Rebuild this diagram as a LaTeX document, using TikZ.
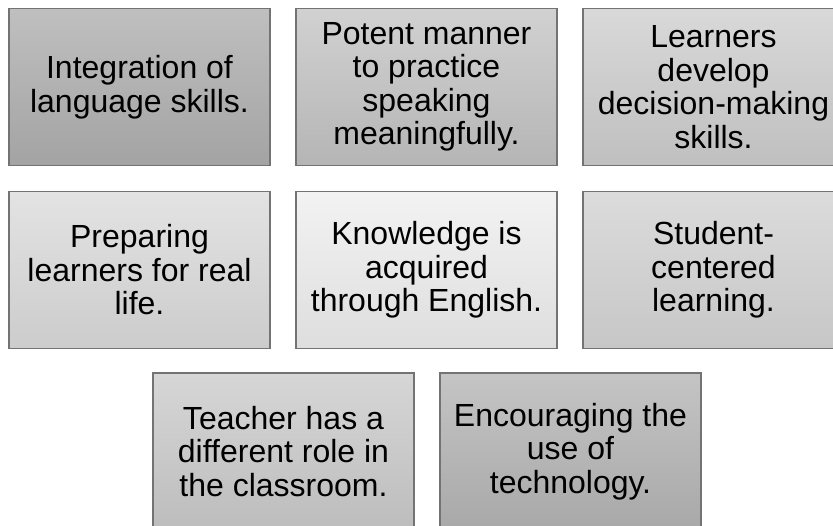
\documentclass[tikz,border=0pt]{standalone}
\usepackage{fontspec}
\setmainfont{Liberation Sans}
\usepackage{tikz}

\begin{document}
\begin{tikzpicture}[x=1pt,y=-1pt,
  skill/.style 2 args={draw=black!55, line width=1.2pt, top color=#1, bottom color=#2,
    minimum width=261pt, minimum height=157pt, inner sep=0pt, align=center,
    font=\fontsize{32}{33.5}\selectfont}]
\clip (0,0) rectangle (833,525);

% first row
\node[skill={black!25}{black!36}] (integration) at (139.5,87) {Integration of\\language skills.};
\node[skill={black!18}{black!29}] (potent) at (426.5,87) {Potent manner\\to practice\\speaking\\meaningfully.};
\node[skill={black!15}{black!25}] (learners) at (713.5,87) {Learners\\develop\\decision-making\\skills.};

% second row
\node[skill={black!11}{black!20}] (preparing) at (139.5,270) {Preparing\\learners for real\\life.};
\node[skill={black!5}{black!13}] (knowledge) at (426.5,270) {Knowledge is\\acquired\\through English.};
\node[skill={black!14}{black!22}] (student) at (713.5,270) {Student-\\centered\\learning.};

% third row
\node[skill={black!16}{black!26}] (teacher) at (283.5,451.5) {Teacher has a\\different role in\\the classroom.};
\node[skill={black!23}{black!34}] (technology) at (570.5,451.5) {Encouraging the\\use of\\technology.};
\end{tikzpicture}
\end{document}
